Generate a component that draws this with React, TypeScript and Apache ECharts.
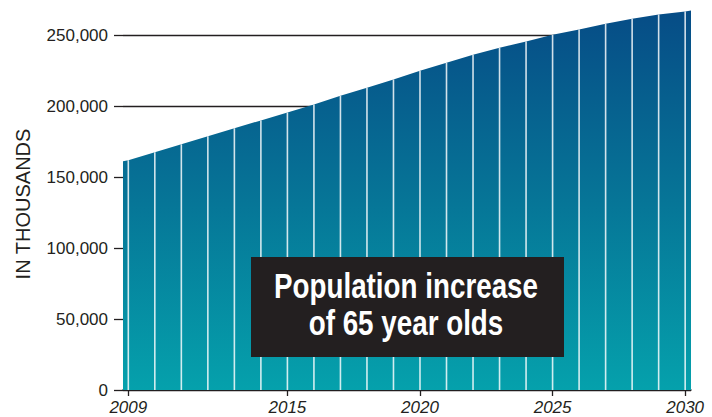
import React, { useEffect, useRef } from "react";
import * as echarts from "echarts";

// Data (population, in thousands)
const years = [2009, 2010, 2011, 2012, 2013, 2014, 2015, 2016, 2017, 2018, 2019, 2020, 2021, 2022, 2023, 2024, 2025, 2026, 2027, 2028, 2029, 2030];
const values = [162000, 167600, 173200, 178900, 184500, 190100, 195600, 201400, 207500, 213200, 219000, 225100, 230800, 236400, 241300, 245800, 250500, 254200, 258200, 261800, 264800, 266900];
// area edges just beyond the first and last year
const edgeYears = [2008.8, 2030.22];
const edgeValues = [161300, 267600];
const xTickLabels = [2009, 2015, 2020, 2025, 2030];
const yTicks = [0, 50000, 100000, 150000, 200000, 250000];
const yMax = 275000;
const axisTitle = "IN THOUSANDS";
const titleLines = ["Population increase", "of 65 year olds"];

const FONT = '"Liberation Sans", Arial, Helvetica, sans-serif';
const TITLE_FONT = '"Liberation Sans Narrow", "Arial Narrow", "Liberation Sans", Arial, sans-serif';

function measure(text: string, font: string): number {
  const c = document.createElement("canvas");
  const ctx = c.getContext("2d");
  if (!ctx) return 0;
  ctx.font = font;
  return ctx.measureText(text).width;
}

export default function App() {
  const ref = useRef<HTMLDivElement>(null);
  useEffect(() => {
    if (!ref.current) return;
    const chart = echarts.init(ref.current, undefined, { renderer: "svg" });
    const areaData: number[][] = [[edgeYears[0], edgeValues[0]]];
    years.forEach((y, i) => areaData.push([y, values[i]]));
    areaData.push([edgeYears[1], edgeValues[1]]);
    const barData = years.map((y, i) => [y, values[i]]);

    const titleSize = 35;
    const w1 = measure(titleLines[0], `bold ${titleSize}px ${TITLE_FONT}`);
    const sx = w1 > 0 ? 264 / w1 : 1;

    const ink = "#231f20";

    chart.setOption({
      animation: false,
      backgroundColor: "#ffffff",
      grid: { left: 123, right: 21, top: 0, bottom: 27, containLabel: false },
      xAxis: {
        type: "value",
        min: edgeYears[0],
        max: edgeYears[1],
        axisLine: { show: true, lineStyle: { color: ink, width: 1.5 } },
        axisTick: { show: true, length: 6, customValues: xTickLabels, lineStyle: { color: ink, width: 1.3 } },
        axisLabel: {
          customValues: xTickLabels,
          formatter: (v: number) => String(Math.round(v)),
          fontFamily: FONT,
          fontSize: 17,
          fontStyle: "italic",
          color: ink,
          margin: 9,
        },
        splitLine: { show: false },
      },
      yAxis: {
        type: "value",
        min: 0,
        max: yMax,
        interval: 50000,
        axisLine: { show: false },
        axisTick: { show: true, length: 9, customValues: yTicks, lineStyle: { color: ink, width: 1.3 } },
        axisLabel: {
          customValues: yTicks,
          formatter: (v: number) => (yTicks.indexOf(v) >= 0 ? v.toLocaleString("en-US") : ""),
          fontFamily: FONT,
          fontSize: 17,
          color: ink,
          margin: 15,
        },
        splitLine: { show: true, lineStyle: { color: ink, width: 1.3 } },
      },
      series: [
        {
          type: "line",
          data: areaData,
          showSymbol: false,
          symbol: "none",
          lineStyle: { width: 0 },
          areaStyle: {
            opacity: 1,
            color: new echarts.graphic.LinearGradient(0, 0, 0, 1, [
              { offset: 0, color: "#064c86" },
              { offset: 0.5, color: "#067597" },
              { offset: 1, color: "#05a1ac" },
            ]),
          },
          z: 2,
        },
        {
          type: "bar",
          data: barData,
          barWidth: 1.6,
          itemStyle: { color: "rgba(255,255,255,0.82)" },
          z: 3,
        },
      ],
      graphic: [
        {
          type: "text",
          x: 23,
          y: 204,
          rotation: Math.PI / 2,
          style: {
            text: axisTitle,
            fontFamily: FONT,
            fontSize: 20,
            fill: ink,
            textAlign: "center",
            textVerticalAlign: "middle",
          },
          z: 10,
        },
        {
          type: "rect",
          shape: { x: 251, y: 257, width: 313, height: 100 },
          style: { fill: ink },
          z: 10,
        },
        {
          type: "text",
          x: 406,
          y: 286,
          scaleX: sx,
          style: {
            text: titleLines[0],
            fontFamily: TITLE_FONT,
            fontWeight: "bold",
            fontSize: titleSize,
            fill: "#ffffff",
            textAlign: "center",
            textVerticalAlign: "middle",
          },
          z: 11,
        },
        {
          type: "text",
          x: 406,
          y: 323,
          scaleX: sx,
          style: {
            text: titleLines[1],
            fontFamily: TITLE_FONT,
            fontWeight: "bold",
            fontSize: titleSize,
            fill: "#ffffff",
            textAlign: "center",
            textVerticalAlign: "middle",
          },
          z: 11,
        },
      ],
    });
    return () => chart.dispose();
  }, []);
  return <div ref={ref} style={{ position: "fixed", left: 0, top: 0, width: 712, height: 417 }} />;
}
